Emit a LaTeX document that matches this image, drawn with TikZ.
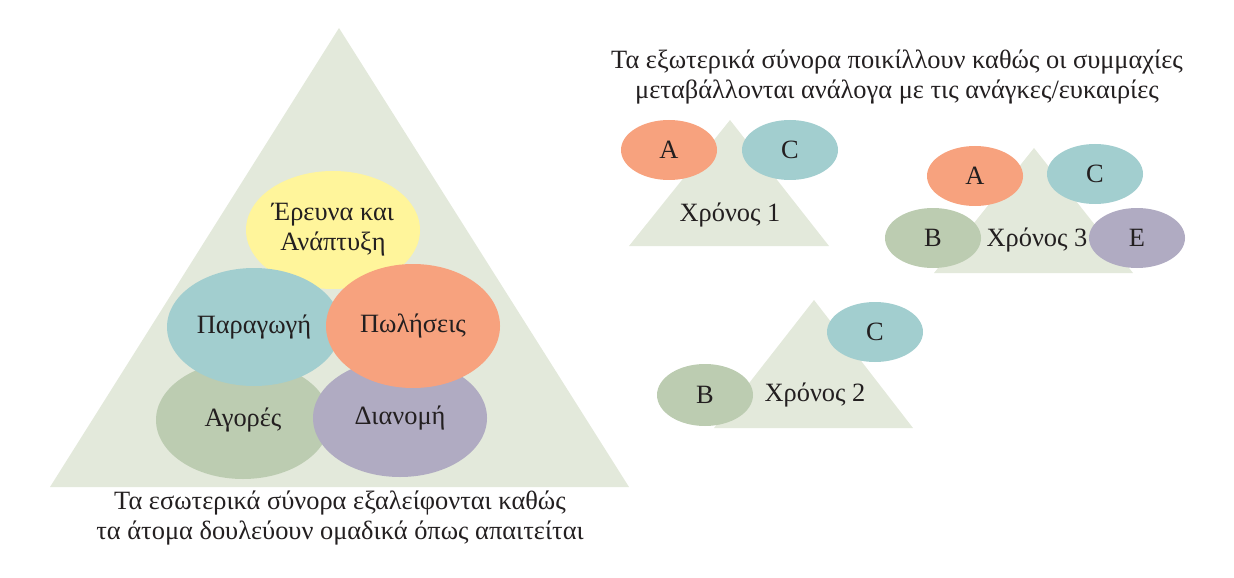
\documentclass[tikz,border=0pt]{standalone}
\usepackage{fontspec}
\setmainfont{Liberation Serif}
\usetikzlibrary{shapes.geometric}
\definecolor{tribg}{HTML}{E3E9DB}
\definecolor{salmon}{HTML}{F7A27E}
\definecolor{teal}{HTML}{A2CECF}
\definecolor{sage}{HTML}{BCCCB1}
\definecolor{lilac}{HTML}{B0ABC2}
\definecolor{lemon}{HTML}{FFF59B}
\definecolor{ink}{HTML}{231F20}
\begin{document}
\begin{tikzpicture}
    [x=0.5pt, y=-0.5pt, every node/.style={font=\fontsize{13.2}{15}\selectfont, text=ink},
     blob/.style={ellipse, inner sep=0pt, minimum width=87pt, minimum height=59pt},
     minibox/.style={ellipse, inner sep=0pt, minimum width=48pt, minimum height=30pt}]
    \useasboundingbox (0,0) rectangle (1234,577);
    %		big team triangle
    \fill[tribg] (339,28) -- (629,487) -- (50,487) -- cycle;
    \node[blob, fill=lemon, align=center] (rd) at (333,230){Έρευνα και\\Ανάπτυξη};
    \node[blob, fill=sage] (ag) at (243,420){Αγορές};
    \node[blob, fill=lilac] (di) at (400,418){Διανομή};
    \node[blob, fill=teal] (pa) at (254,327){Παραγωγή};
    \node[blob, fill=salmon, minimum height=62pt] (po) at (413,326){Πωλήσεις};
    \node[align=center] (in) at (340,518){Τα εσωτερικά σύνορα εξαλείφονται καθώς\\τα άτομα δουλεύουν ομαδικά όπως απαιτείται};
    %		yearly triangles
    \node[align=center] (out) at (897,77){Τα εξωτερικά σύνορα ποικίλλουν καθώς οι συμμαχίες\\μεταβάλλονται ανάλογα με τις ανάγκες/ευκαιρίες};
    \fill[tribg] (730,120) -- (829,246) -- (629,246) -- cycle;
    \node (y1) at (730,215){Χρόνος 1};
    \node[minibox, fill=salmon] (a1) at (669,150){A};
    \node[minibox, fill=teal] (c1) at (790,150){C};
    \fill[tribg] (814,300) -- (913,428) -- (714,428) -- cycle;
    \node (y2) at (815,395){Χρόνος 2};
    \node[minibox, fill=teal] (c2) at (875,332){C};
    \node[minibox, fill=sage, minimum height=31pt] (b2) at (705,395){B};
    \fill[tribg] (1034,148) -- (1133,273) -- (934,273) -- cycle;
    \node (y3) at (1037,240){Χρόνος 3};
    \node[minibox, fill=salmon] (a3) at (975,176){A};
    \node[minibox, fill=teal] (c3) at (1095,174){C};
    \node[minibox, fill=sage] (b3) at (933,238){B};
    \node[minibox, fill=lilac] (e3) at (1137,238){E};
\end{tikzpicture}
\end{document}
